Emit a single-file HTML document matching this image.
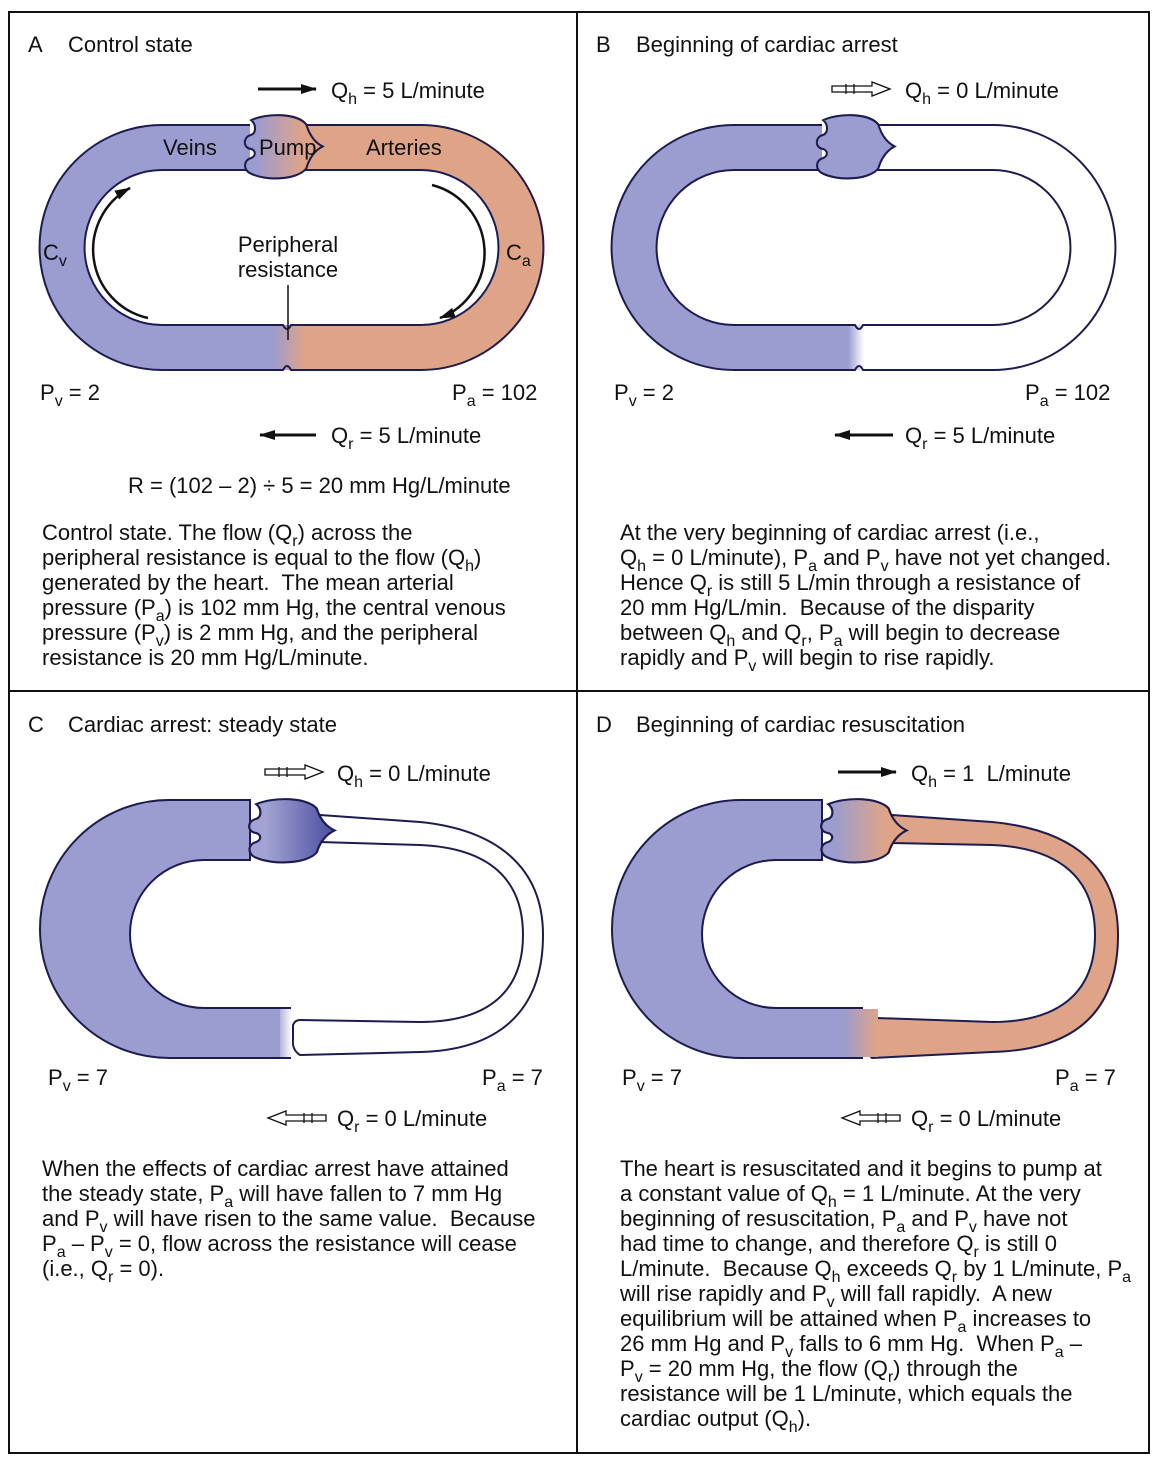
<!DOCTYPE html>
<html><head><meta charset="utf-8"><style>
html,body{margin:0;padding:0;background:#fff}
svg{display:block}
text{font-family:"Liberation Sans",Arial,sans-serif;font-size:22px;fill:#111;white-space:pre}
</style></head><body>
<svg width="1152" height="1463" viewBox="0 0 1152 1463" xmlns="http://www.w3.org/2000/svg">
<defs>
<linearGradient id="pumpBO" x1="0" x2="1"><stop offset="0.15" stop-color="#9b9ccf"/><stop offset="0.75" stop-color="#dfa487"/></linearGradient>
<linearGradient id="pumpC" x1="0" x2="1"><stop offset="0.2" stop-color="#a2a3d3"/><stop offset="0.9" stop-color="#5557a6"/></linearGradient>
<linearGradient id="pinchBO" gradientUnits="userSpaceOnUse" x1="272" x2="305"><stop offset="0" stop-color="#9b9ccf"/><stop offset="1" stop-color="#dfa487"/></linearGradient>
<linearGradient id="pinchBW" gradientUnits="userSpaceOnUse" x1="276" x2="292"><stop offset="0" stop-color="#9b9ccf"/><stop offset="1" stop-color="#ffffff"/></linearGradient>
<marker id="ah" markerWidth="16" markerHeight="10" refX="15" refY="5" orient="auto" markerUnits="userSpaceOnUse"><path d="M0,0 L16,5 L0,10 Z" fill="#111"/></marker>
<g id="pump"><path d="M10,4 C25,-3 55,-3 64,8 C67,18 72,25 80,29 C72,33 67,40 64,50 C55,61 25,62 10,55 C2,52 2,42 10,40 C15,38 15,32 8,31 C2,29 2,20 10,18 C15,16 15,8 10,4 Z" stroke="#1c1c50" stroke-width="2"/></g>
<g id="hollowR"><path d="M0,-3 H40 V-7 L58,0 L40,7 V3 H0 Z M14,-5 V5 M22,-5 V5" fill="#fff" stroke="#111" stroke-width="1.3"/></g>
</defs>

<rect x="9" y="12" width="1140" height="1441" fill="none" stroke="#111" stroke-width="2"/>
<line x1="577" y1="12" x2="577" y2="1453" stroke="#111" stroke-width="2"/>
<line x1="9" y1="691" x2="1149" y2="691" stroke="#111" stroke-width="2"/>

<!-- PANEL A -->
<g>
<text x="28" y="52">A</text>
<text x="68" y="52">Control state</text>
<line x1="258" y1="89" x2="316" y2="89" stroke="#111" stroke-width="3" marker-end="url(#ah)"/>
<text x="331" y="98">Q_{h} = 5 L/minute</text>
<path d="M250,125 H162 A122.5,122.5 0 0 0 162,370 H287 V325 H162 A77.5,77.5 0 0 1 162,170 H250 Z" fill="#9b9ccf"/>
<path d="M300,125 H421 A122.5,122.5 0 0 1 421,370 H287 V325 H421 A77.5,77.5 0 0 0 421,170 H300 Z" fill="#dfa487"/>
<rect x="270" y="325" width="36" height="45" fill="url(#pinchBO)"/>
<path d="M250,125 H162 A122.5,122.5 0 0 0 162,370 H283 Q287,362 291,370 H421 A122.5,122.5 0 0 0 421,125 H300 M250,170 H162 A77.5,77.5 0 0 0 162,325 H283 Q287,333 291,325 H421 A77.5,77.5 0 0 0 421,170 H300" fill="none" stroke="#1c1c50" stroke-width="2"/>
<use href="#pump" transform="translate(241,116) scale(1.02,1.05)" fill="url(#pumpBO)"/>
<text x="163" y="155">Veins</text>
<text x="259" y="155">Pump</text>
<text x="366" y="155">Arteries</text>
<text x="43" y="260">C_{v}</text>
<text x="506" y="260">C_{a}</text>
<text x="288" y="252" text-anchor="middle">Peripheral</text>
<text x="288" y="277" text-anchor="middle">resistance</text>
<line x1="288" y1="285" x2="288" y2="340" stroke="#111" stroke-width="1.5"/>
<path d="M148,318 A70,70 0 0 1 130,188" fill="none" stroke="#111" stroke-width="2.5" marker-end="url(#ah)"/>
<path d="M432,185 A70,70 0 0 1 440,318" fill="none" stroke="#111" stroke-width="2.5" marker-end="url(#ah)"/>
<text x="40" y="400">P_{v} = 2</text>
<text x="452" y="400">P_{a} = 102</text>
<line x1="316" y1="435" x2="260" y2="435" stroke="#111" stroke-width="3" marker-end="url(#ah)"/>
<text x="331" y="443">Q_{r} = 5 L/minute</text>
<text x="128" y="493">R = (102 – 2) ÷ 5 = 20 mm Hg/L/minute</text>
<g>
<text x="42" y="540">Control state. The flow (Q_{r}) across the</text>
<text x="42" y="565">peripheral resistance is equal to the flow (Q_{h})</text>
<text x="42" y="590">generated by the heart.  The mean arterial</text>
<text x="42" y="615">pressure (P_{a}) is 102 mm Hg, the central venous</text>
<text x="42" y="640">pressure (P_{v}) is 2 mm Hg, and the peripheral</text>
<text x="42" y="665">resistance is 20 mm Hg/L/minute.</text>
</g>
</g>

<!-- PANEL B -->
<g>
<text x="596" y="52">B</text>
<text x="636" y="52">Beginning of cardiac arrest</text>
<use href="#hollowR" x="832" y="89"/>
<text x="905" y="98">Q_{h} = 0 L/minute</text>
<g transform="translate(572,0)">
<path d="M250,125 H162 A122.5,122.5 0 0 0 162,370 H287 V325 H162 A77.5,77.5 0 0 1 162,170 H250 Z" fill="#9b9ccf"/>
<rect x="270" y="325" width="24" height="45" fill="url(#pinchBW)"/>
<path d="M250,125 H162 A122.5,122.5 0 0 0 162,370 H283 Q287,362 291,370 H421 A122.5,122.5 0 0 0 421,125 H300 M250,170 H162 A77.5,77.5 0 0 0 162,325 H283 Q287,333 291,325 H421 A77.5,77.5 0 0 0 421,170 H300" fill="none" stroke="#1c1c50" stroke-width="2"/>
<use href="#pump" transform="translate(241,116) scale(1.02,1.05)" fill="#9b9ccf"/>
</g>
<text x="614" y="400">P_{v} = 2</text>
<text x="1025" y="400">P_{a} = 102</text>
<line x1="893" y1="435" x2="835" y2="435" stroke="#111" stroke-width="3" marker-end="url(#ah)"/>
<text x="905" y="443">Q_{r} = 5 L/minute</text>
<g>
<text x="620" y="540">At the very beginning of cardiac arrest (i.e.,</text>
<text x="620" y="565">Q_{h} = 0 L/minute), P_{a} and P_{v} have not yet changed.</text>
<text x="620" y="590">Hence Q_{r} is still 5 L/min through a resistance of</text>
<text x="620" y="615">20 mm Hg/L/min.  Because of the disparity</text>
<text x="620" y="640">between Q_{h} and Q_{r}, P_{a} will begin to decrease</text>
<text x="620" y="665">rapidly and P_{v} will begin to rise rapidly.</text>
</g>
</g>

<!-- PANEL C -->
<g>
<text x="28" y="732">C</text>
<text x="68" y="732">Cardiac arrest: steady state</text>
<use href="#hollowR" x="265" y="772"/>
<text x="337" y="781">Q_{h} = 0 L/minute</text>
<path d="M320,815 L420,822 C500,830 543,870 543,935 C543,1010 500,1050 420,1052 L300,1055 Q292,1050 293,1040 L293,1025 Q295,1020 300,1020 L420,1022 C490,1022 523,990 523,935 C523,880 490,848 420,845 L320,842 Z" fill="#fff" stroke="#1c1c50" stroke-width="2"/>
<path d="M250,800 H169 A129,129 0 0 0 169,1058 H290 V1008 H204 A74,74 0 0 1 204,860 H250 Z" fill="#9b9ccf" stroke="#1c1c50" stroke-width="2"/>
<rect x="280" y="1009" width="12" height="48" fill="url(#pinchBW)"/>
<use href="#pump" transform="translate(245,800) scale(1.12,1.05)" fill="url(#pumpC)"/>
<text x="48" y="1085">P_{v} = 7</text>
<text x="482" y="1085">P_{a} = 7</text>
<use href="#hollowR" transform="translate(326,1118) scale(-1,1)"/>
<text x="337" y="1126">Q_{r} = 0 L/minute</text>
<g>
<text x="42" y="1176">When the effects of cardiac arrest have attained</text>
<text x="42" y="1201">the steady state, P_{a} will have fallen to 7 mm Hg</text>
<text x="42" y="1226">and P_{v} will have risen to the same value.  Because</text>
<text x="42" y="1251">P_{a} – P_{v} = 0, flow across the resistance will cease</text>
<text x="42" y="1276">(i.e., Q_{r} = 0).</text>
</g>
</g>

<!-- PANEL D -->
<g>
<text x="596" y="732">D</text>
<text x="636" y="732">Beginning of cardiac resuscitation</text>
<line x1="838" y1="772" x2="896" y2="772" stroke="#111" stroke-width="3" marker-end="url(#ah)"/>
<text x="911" y="781">Q_{h} = 1  L/minute</text>
<g transform="translate(572,0)">
<path d="M320,815 L420,822 C505,830 546,870 546,935 C546,1010 505,1050 420,1052 L300,1058 Q292,1050 293,1040 L293,1030 Q295,1018 305,1018 L420,1022 C490,1022 523,990 523,935 C523,880 490,848 420,845 L320,843 Z" fill="#dfa487" stroke="#1c1c50" stroke-width="2"/>
<path d="M250,800 H169 A129,129 0 0 0 169,1058 H290 V1008 H204 A74,74 0 0 1 204,860 H250 Z" fill="#9b9ccf" stroke="#1c1c50" stroke-width="2"/>
<rect x="270" y="1009" width="36" height="48" fill="url(#pinchBO)"/>
<use href="#pump" transform="translate(245,800) scale(1.12,1.05)" fill="url(#pumpBO)"/>
</g>
<text x="622" y="1085">P_{v} = 7</text>
<text x="1055" y="1085">P_{a} = 7</text>
<use href="#hollowR" transform="translate(900,1118) scale(-1,1)"/>
<text x="911" y="1126">Q_{r} = 0 L/minute</text>
<g>
<text x="620" y="1176">The heart is resuscitated and it begins to pump at</text>
<text x="620" y="1201">a constant value of Q_{h} = 1 L/minute. At the very</text>
<text x="620" y="1226">beginning of resuscitation, P_{a} and P_{v} have not</text>
<text x="620" y="1251">had time to change, and therefore Q_{r} is still 0</text>
<text x="620" y="1276">L/minute.  Because Q_{h} exceeds Q_{r} by 1 L/minute, P_{a}</text>
<text x="620" y="1301">will rise rapidly and P_{v} will fall rapidly.  A new</text>
<text x="620" y="1326">equilibrium will be attained when P_{a} increases to</text>
<text x="620" y="1351">26 mm Hg and P_{v} falls to 6 mm Hg.  When P_{a} –</text>
<text x="620" y="1376">P_{v} = 20 mm Hg, the flow (Q_{r}) through the</text>
<text x="620" y="1401">resistance will be 1 L/minute, which equals the</text>
<text x="620" y="1426">cardiac output (Q_{h}).</text>
</g>
</g>
</svg>
<script>
document.querySelectorAll('text').forEach(function(t){
  if (t.textContent.indexOf('_{') >= 0) {
    t.innerHTML = t.textContent.replace(/_\{([^}]*)\}/g, '<tspan font-size="16" baseline-shift="-6">$1</tspan>');
  }
});
</script>
</body></html>
